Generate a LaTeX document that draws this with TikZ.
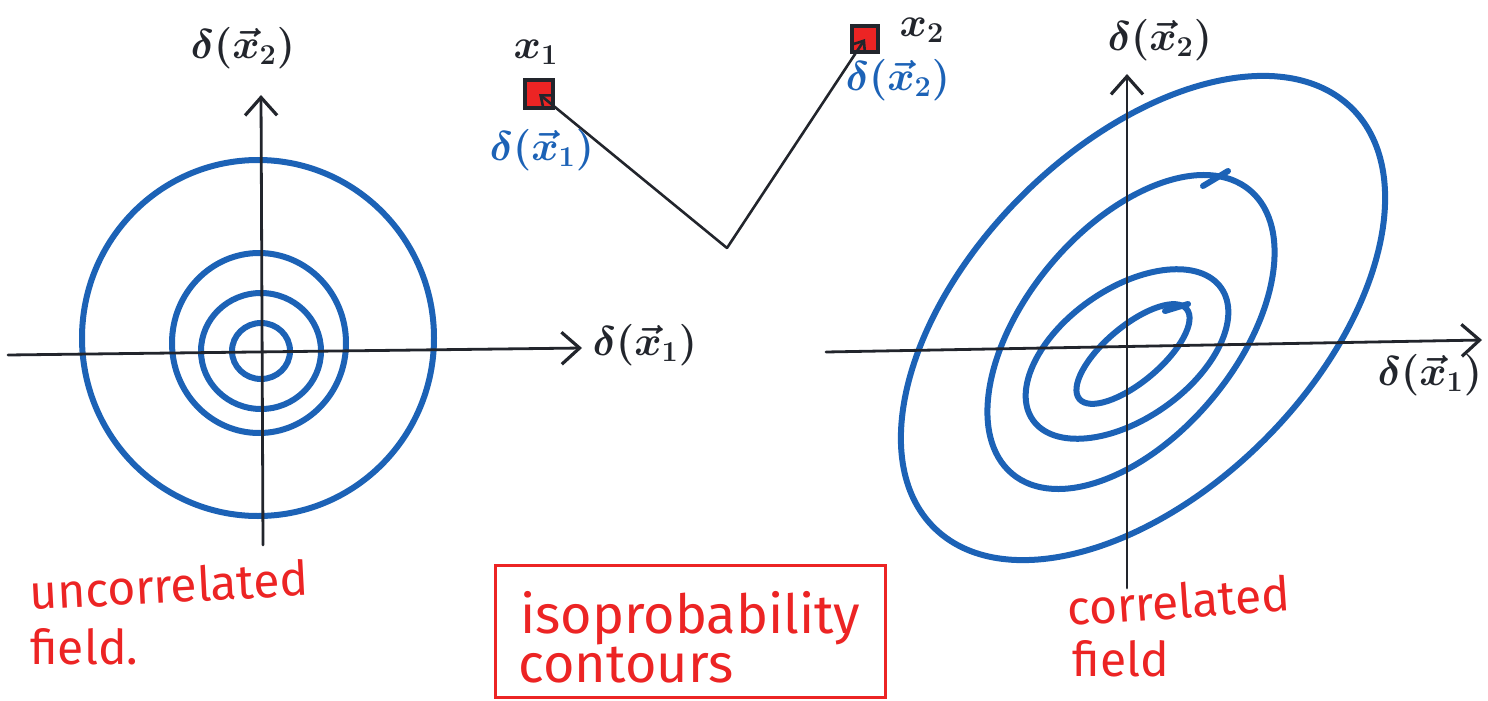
\documentclass[tikz,border=0pt]{standalone}
\usepackage{fontspec}
\usetikzlibrary{arrows.meta}
\newfontfamily\handfont{Fira Sans}
\definecolor{inkblue}{RGB}{28,98,182}
\definecolor{inkred}{RGB}{236,36,36}
\definecolor{inkblack}{RGB}{34,37,44}
\tikzset{
  axisline/.style={line width=1.4pt, draw=inkblack, line cap=round,
    -{Straight Barb[length=9pt,width=16pt,line width=1.6pt]}},
  contour/.style={line width=3pt, draw=inkblue},
  stub/.style={line width=3pt, draw=inkblue, line cap=round},
  pointer/.style={line width=1.3pt, draw=inkblack, line cap=round,
    -{Straight Barb[length=5pt,width=8pt,line width=1.3pt]}},
  blacklab/.style={text=inkblack, font=\fontsize{20.74}{25}\selectfont\boldmath},
  bluelab/.style={text=inkblue, font=\fontsize{20.74}{23}\selectfont\boldmath},
  redlab/.style={text=inkred, font=\handfont\fontsize{24}{28}\selectfont, anchor=base west, inner sep=0pt},
  site/.style={draw=inkblack, fill=inkred, line width=2pt, inner sep=0pt}
}
\begin{document}
\begin{tikzpicture}[x=0.5pt,y=-0.5pt]
\useasboundingbox (0,0) rectangle (1488,701);

% ---------- left: uncorrelated ----------
\coordinate (lxs) at (8,355);
\coordinate (lxe) at (582,348);
\coordinate (lys) at (263,545);
\coordinate (lye) at (261,95);
\draw[contour] (258,338) ellipse [x radius=176, y radius=178];
\draw[contour] (259,343) ellipse [x radius=87, y radius=90];
\draw[contour] (261,351) ellipse [x radius=60, y radius=58];
\draw[contour] (261,351) ellipse [x radius=29, y radius=28];
\draw[axisline] (lxs) -- (lxe);
\draw[axisline] (lys) -- (lye);
\node[blacklab] (lx2) at (243,48) {$\delta(\vec{x}_2)$};
\node[blacklab] (lx1) at (645,345) {$\delta(\vec{x}_1)$};
\node[redlab, rotate=3] (unc) at (30,610) {uncorrelated};
\node[redlab] (fld1) at (30,664) {field.};

% ---------- middle ----------
\node[site, minimum size=14pt] (sq1) at (539,94) {};
\node[site, minimum size=13pt] (sq2) at (865,39) {};
\coordinate (v) at (727,248);
\draw[pointer] (v) -- (sq1.center);
\draw[pointer] (v) -- (sq2.center);
\node[text=inkblack, font=\fontsize{20.74}{23}\selectfont\boldmath] (x1) at (536,52) {$x_1$};
\node[text=inkblack, font=\fontsize{20.74}{23}\selectfont\boldmath] (x2) at (922,30) {$x_2$};
\node[bluelab] (b1) at (542,150) {$\delta(\vec{x}_1)$};
\node[bluelab] (b2) at (898,80) {$\delta(\vec{x}_2)$};

\node[draw=inkred, line width=1.5pt, minimum width=195pt, minimum height=66pt, inner sep=0pt] (box) at (690,631) {};
\node[redlab, font=\handfont\fontsize{27}{32}\selectfont] (iso) at (520,633) {isoprobability};
\node[redlab, font=\handfont\fontsize{27}{32}\selectfont] (con) at (518,682) {contours};

% ---------- right: correlated ----------
\coordinate (rxs) at (826,352);
\coordinate (rxe) at (1482,340);
\coordinate (rys) at (1127,588);
\coordinate (rye) at (1127,74);
\draw[contour, rotate around={45:(1143,318)}] (1143,318) ellipse [x radius=296, y radius=172];
\draw[contour, rotate around={50:(1131,332)}] (1131,332) ellipse [x radius=185, y radius=105];
\draw[stub] (1203,186) -- (1228,171);
\draw[contour, rotate around={35:(1127,354)}] (1127,354) ellipse [x radius=115, y radius=65];
\draw[contour, rotate around={40:(1133,354)}] (1133,354) ellipse [x radius=70, y radius=28];
\draw[stub] (1165,311) -- (1188,304);
\draw[axisline] (rxs) -- (rxe);
\draw[axisline] (rys) -- (rye);
\node[blacklab] (rx2) at (1160,40) {$\delta(\vec{x}_2)$};
\node[blacklab] (rx1) at (1430,375) {$\delta(\vec{x}_1)$};
\node[redlab, rotate=4] (cor) at (1068,626) {correlated};
\node[redlab] (fld2) at (1072,676) {field};
\end{tikzpicture}
\end{document}
